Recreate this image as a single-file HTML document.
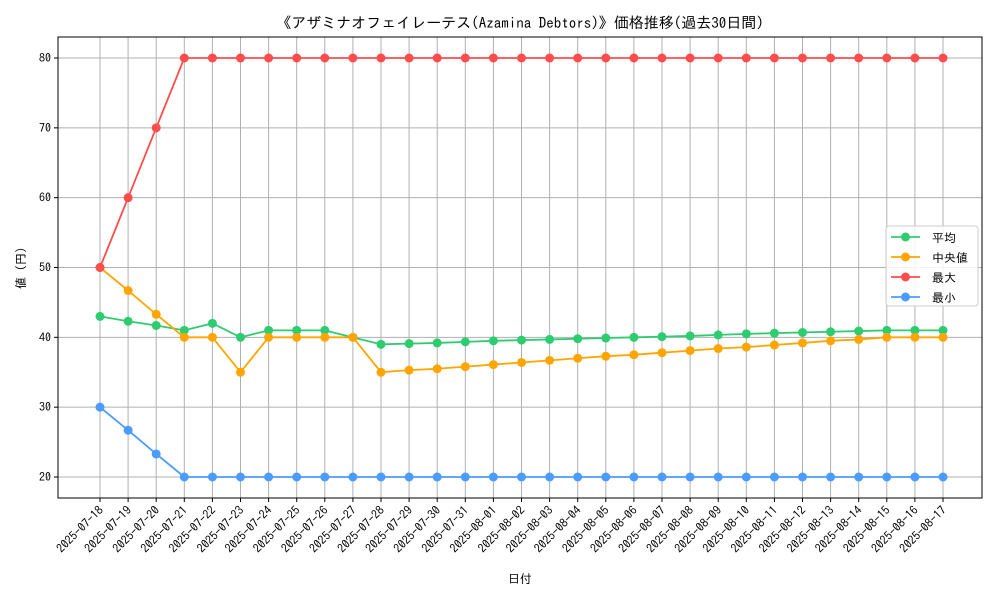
<!DOCTYPE html>
<html><head><meta charset="utf-8">
<style>
body{margin:0;background:#fff;}
svg text{font-family:"IPAGothic","Noto Sans CJK JP",monospace;fill:#000;}
</style></head>
<body>
<svg id="chart" width="1000" height="600" xmlns="http://www.w3.org/2000/svg">
<text x="520" y="28" text-anchor="middle" font-size="15">《アザミナオフェイレーテス(Azamina Debtors)》価格推移(過去30日間)</text>
<g id="grid"></g>
<g id="axes"></g>
<g id="series"></g>
<text x="520" y="583" text-anchor="middle" font-size="12">日付</text>
<text transform="translate(25,268) rotate(-90)" text-anchor="middle" font-size="12">値 (円)</text>
<g id="legend"></g>
</svg>
<script>
const dates=["2025-07-18","2025-07-19","2025-07-20","2025-07-21","2025-07-22","2025-07-23","2025-07-24","2025-07-25","2025-07-26","2025-07-27","2025-07-28","2025-07-29","2025-07-30","2025-07-31","2025-08-01","2025-08-02","2025-08-03","2025-08-04","2025-08-05","2025-08-06","2025-08-07","2025-08-08","2025-08-09","2025-08-10","2025-08-11","2025-08-12","2025-08-13","2025-08-14","2025-08-15","2025-08-16","2025-08-17"];
const meanVals=[43,42.3,41.7,41,42,40,41,41,41,40,39,39.1,39.2,39.35,39.5,39.6,39.7,39.8,39.9,40,40.1,40.2,40.35,40.5,40.6,40.7,40.8,40.9,41,41,41];
const medianVals=[50,46.7,43.3,40,40,35,40,40,40,40,35,35.3,35.5,35.8,36.1,36.4,36.7,37,37.3,37.5,37.8,38.1,38.4,38.6,38.9,39.2,39.5,39.7,40,40,40];
const maxVals=[50,60,70,80,80,80,80,80,80,80,80,80,80,80,80,80,80,80,80,80,80,80,80,80,80,80,80,80,80,80,80];
const minVals=[30,26.7,23.3,20,20,20,20,20,20,20,20,20,20,20,20,20,20,20,20,20,20,20,20,20,20,20,20,20,20,20,20];
const yTicks=[20,30,40,50,60,70,80];
const seriesNames=["平均","中央値","最大","最小"];
const NS="http://www.w3.org/2000/svg";
const L=58,R=982,T=37,B=498;
const x0=100,x1=943;
function xs(i){return x0+(x1-x0)*i/(dates.length-1);}
function ys(v){return 477-(v-20)*(477-58)/60;}
function mk(tag,attrs,parent){const e=document.createElementNS(NS,tag);for(const k in attrs)e.setAttribute(k,attrs[k]);parent.appendChild(e);return e;}
const grid=document.getElementById('grid'),axes=document.getElementById('axes'),ser=document.getElementById('series'),leg=document.getElementById('legend');
dates.forEach((d,i)=>{
 const g=mk('line',{x1:xs(i),x2:xs(i),y1:T,y2:B,stroke:'#b0b0b0','stroke-width':1},grid);
 
 
 mk('line',{x1:xs(i),x2:xs(i),y1:B,y2:B+4,stroke:'#000'},axes);
 const t=mk('text',{x:xs(i)+4,y:B+13,'font-size':12,'text-anchor':'end',transform:`rotate(-45 ${xs(i)+4} ${B+13})`},axes);
 t.textContent=d;
 
 
});
yTicks.forEach(v=>{
 const g=mk('line',{x1:L,x2:R,y1:ys(v),y2:ys(v),stroke:'#b0b0b0','stroke-width':1},grid);
 
 
 mk('line',{x1:L-4,x2:L,y1:ys(v),y2:ys(v),stroke:'#000'},axes);
 const t=mk('text',{x:L-7,y:ys(v)+4,'font-size':12,'text-anchor':'end'},axes);
 t.textContent=v;
 
 
});
const fr=mk('rect',{x:L,y:T,width:R-L,height:B-T,fill:'none',stroke:'#000','stroke-width':1},axes);


const all=[meanVals,medianVals,maxVals,minVals];
const colors=["#2ecc71","#ffa500","#ff4c4c","#4c9bff"];
const keys=["mean","median","max","min"];
all.forEach((vals,s)=>{
 const p=mk('polyline',{points:vals.map((v,i)=>xs(i)+','+ys(v)).join(' '),fill:'none',stroke:colors[s],'stroke-width':1.8},ser);
 
 
 vals.forEach((v,i)=>{
  const c=mk('circle',{cx:xs(i),cy:ys(v),r:4.5,fill:colors[s]},ser);
  
  
 });
});
const lb=mk('rect',{x:886,y:226,width:92,height:80,rx:3,fill:'#fff','fill-opacity':0.85,stroke:'#ccc'},leg);


seriesNames.forEach((n,s)=>{
 const y=237+s*20;
 mk('line',{x1:891,x2:920,y1:y,y2:y,stroke:colors[s],'stroke-width':1.8},leg);
 mk('circle',{cx:905.5,cy:y,r:4.5,fill:colors[s]},leg);
 const t=mk('text',{x:932,y:y+5,'font-size':12},leg);
 t.textContent=n;
 
 
});
</script>
</body></html>
